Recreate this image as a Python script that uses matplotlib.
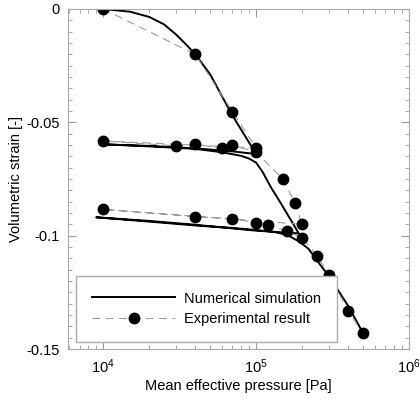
import numpy as np
import matplotlib
matplotlib.use("Agg")
import matplotlib.pyplot as plt
from matplotlib.ticker import LogLocator, MultipleLocator, FuncFormatter, NullFormatter

plt.rcParams['font.family'] = ['Liberation Sans', 'DejaVu Sans']
plt.rcParams['mathtext.fontset'] = 'custom'
plt.rcParams['mathtext.rm'] = 'Liberation Sans'
plt.rcParams['mathtext.it'] = 'Liberation Sans'

# ---------------------------------------------------------------
# DATA
# ---------------------------------------------------------------
# numerical simulation: loading -> unloading -> reloading -> unloading -> reloading
sim_p = [1e4, 1.5e4, 2e4, 2.5e4, 3e4, 3.5e4, 4e4, 5e4, 7e4, 1e5,
         7e4, 4e4, 2e4, 1e4,
         2e4, 4e4, 6e4, 8e4, 9e4, 1e5, 1.1e5, 1.25e5, 1.45e5, 1.7e5, 1.9e5,
         1e5, 4e4, 2e4, 9e3,
         2e4, 4e4, 7e4, 1e5, 1.3e5, 1.6e5, 1.9e5, 2.2e5, 2.6e5, 3e5, 4e5, 5e5]
sim_ev = [0.0, -0.0012, -0.0035, -0.0068, -0.0113, -0.0158, -0.020, -0.0288, -0.047, -0.064,
          -0.0628, -0.0615, -0.0604, -0.0597,
          -0.0606, -0.0617, -0.0632, -0.0648, -0.0660, -0.0678, -0.0718, -0.0787, -0.0857, -0.0935, -0.099,
          -0.0978, -0.0952, -0.0935, -0.0919,
          -0.0938, -0.0955, -0.0966, -0.0975, -0.0983, -0.0997, -0.1025, -0.1058, -0.1125, -0.118, -0.131, -0.143]

# experimental result
exp_p = [1e4, 4e4, 7e4, 1e5,
         1e4, 3e4, 4e4, 6e4, 7e4, 1e5,
         1.5e5, 1.8e5, 2e5,
         1e4, 4e4, 7e4, 1e5, 1.2e5, 1.6e5, 2e5,
         2.5e5, 3e5, 4e5, 5e5]
exp_ev = [0.0, -0.020, -0.0453, -0.0613,
          -0.0582, -0.0604, -0.0596, -0.0615, -0.060, -0.0632,
          -0.0751, -0.0857, -0.095,
          -0.0884, -0.0916, -0.0925, -0.0943, -0.0954, -0.0981, -0.101,
          -0.1088, -0.1172, -0.1332, -0.1431]

# ---------------------------------------------------------------
# PLOT
# ---------------------------------------------------------------
fig = plt.figure(figsize=(4.2, 4.0), dpi=100)
ax = fig.add_axes([0.162, 0.1275, 0.812, 0.85])

ax.plot(sim_p, sim_ev, color='black', linewidth=1.4, label='Numerical simulation')
ax.plot(exp_p, exp_ev, color='#999999', linestyle=(0, (7, 5)), linewidth=0.8,
        marker='o', markersize=7.5, markerfacecolor='black', markeredgecolor='black',
        label='Experimental result')

ax.set_xscale('log')
ax.set_xlim(10 ** 3.77, 1e6)
ax.set_ylim(-0.15, 0)

ax.yaxis.set_major_locator(MultipleLocator(0.05))
ax.yaxis.set_minor_locator(MultipleLocator(0.005))
ax.yaxis.set_major_formatter(FuncFormatter(lambda v, pos: '0' if abs(v) < 1e-9 else f"{v:g}"))
ax.xaxis.set_major_locator(LogLocator(base=10, numticks=10))
ax.xaxis.set_minor_locator(LogLocator(base=10, subs=np.arange(2, 10), numticks=10))
ax.xaxis.set_minor_formatter(NullFormatter())

ax.tick_params(which='both', direction='in', top=True, right=True, color='#999999',
               labelsize=10.5, pad=6)
ax.tick_params(which='major', length=6)
ax.tick_params(which='minor', length=3)
for s in ax.spines.values():
    s.set_color('#aaaaaa')

ax.set_xlabel('Mean effective pressure [Pa]', fontsize=10.5, labelpad=2)
ax.set_ylabel('Volumetric strain [-]', fontsize=10.5, labelpad=2)

leg = ax.legend(loc='lower left', bbox_to_anchor=(0.024, 0.02), borderaxespad=0,
                fontsize=10.5, fancybox=False, framealpha=1, edgecolor='#aaaaaa',
                handlelength=5.7, handletextpad=0.6, borderpad=1.1, labelspacing=0.45)
leg.get_frame().set_linewidth(1.0)

fig.savefig('out.png', dpi=100)
